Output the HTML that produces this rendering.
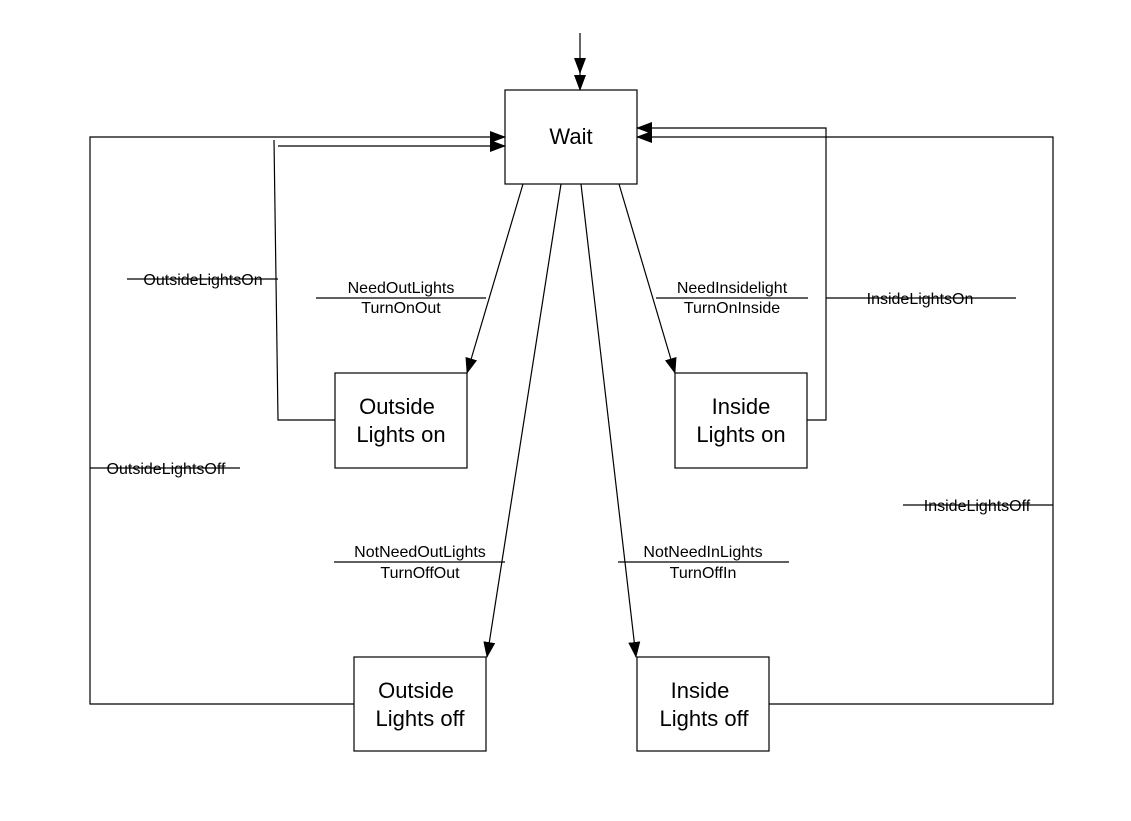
<!DOCTYPE html>
<html><head><style>body{margin:0;background:#fff}svg{display:block}text{font-family:"Liberation Sans",Arial,sans-serif;fill:#000}</style></head><body>
<svg width="1131" height="821" viewBox="0 0 1131 821" xmlns="http://www.w3.org/2000/svg">
<defs><marker id="a" markerWidth="16" markerHeight="12" refX="15" refY="6" orient="auto" markerUnits="userSpaceOnUse"><path d="M0,0 L16,6 L0,12 Z" fill="#000"/></marker></defs>
<g fill="none" stroke="#000" stroke-width="1.2">
<rect x="505" y="90" width="132" height="94" fill="#fff"/>
<rect x="335" y="373" width="132" height="95"/>
<rect x="675" y="373" width="132" height="95"/>
<rect x="354" y="657" width="132" height="94"/>
<rect x="637" y="657" width="132" height="94"/>
<line x1="580" y1="33" x2="580" y2="73" marker-end="url(#a)"/>
<line x1="580" y1="70" x2="580" y2="90" marker-end="url(#a)"/>
<polyline points="335,420 278,420 274,140"/>
<line x1="278" y1="146" x2="505" y2="146" marker-end="url(#a)"/>
<polyline points="354,704 90,704 90,137 505,137" marker-end="url(#a)"/>
<polyline points="807,420 826,420 826,128 637,128" marker-end="url(#a)"/>
<polyline points="769,704 1053,704 1053,137 637,137" marker-end="url(#a)"/>
<line x1="523" y1="184" x2="467" y2="373" marker-end="url(#a)"/>
<line x1="561" y1="184" x2="487" y2="657" marker-end="url(#a)"/>
<line x1="581" y1="184" x2="636" y2="657" marker-end="url(#a)"/>
<line x1="619" y1="184" x2="675" y2="373" marker-end="url(#a)"/>
<line x1="127" y1="279" x2="278" y2="279"/>
<line x1="90" y1="468" x2="240" y2="468"/>
<line x1="826" y1="298" x2="1016" y2="298"/>
<line x1="903" y1="505" x2="1053" y2="505"/>
<line x1="316" y1="298" x2="486" y2="298"/>
<line x1="656" y1="298" x2="808" y2="298"/>
<line x1="334" y1="562" x2="505" y2="562"/>
<line x1="618" y1="562" x2="789" y2="562"/>
</g>
<g font-size="22" text-anchor="middle">
<text x="571" y="144">Wait</text>
<text x="397" y="414">Outside</text><text x="401" y="442">Lights on</text>
<text x="741" y="414">Inside</text><text x="741" y="442">Lights on</text>
<text x="416" y="698">Outside</text><text x="420" y="726">Lights off</text>
<text x="700" y="698">Inside</text><text x="704" y="726">Lights off</text>
</g>
<g font-size="16" text-anchor="middle">
<text x="203" y="285">OutsideLightsOn</text>
<text x="166" y="474">OutsideLightsOff</text>
<text x="920" y="304">InsideLightsOn</text>
<text x="977" y="511">InsideLightsOff</text>
<text x="401" y="293">NeedOutLights</text><text x="401" y="313">TurnOnOut</text>
<text x="732" y="293">NeedInsidelight</text><text x="732" y="313">TurnOnInside</text>
<text x="420" y="557">NotNeedOutLights</text><text x="420" y="578">TurnOffOut</text>
<text x="703" y="557">NotNeedInLights</text><text x="703" y="578">TurnOffIn</text>
</g>
</svg>
</body></html>
